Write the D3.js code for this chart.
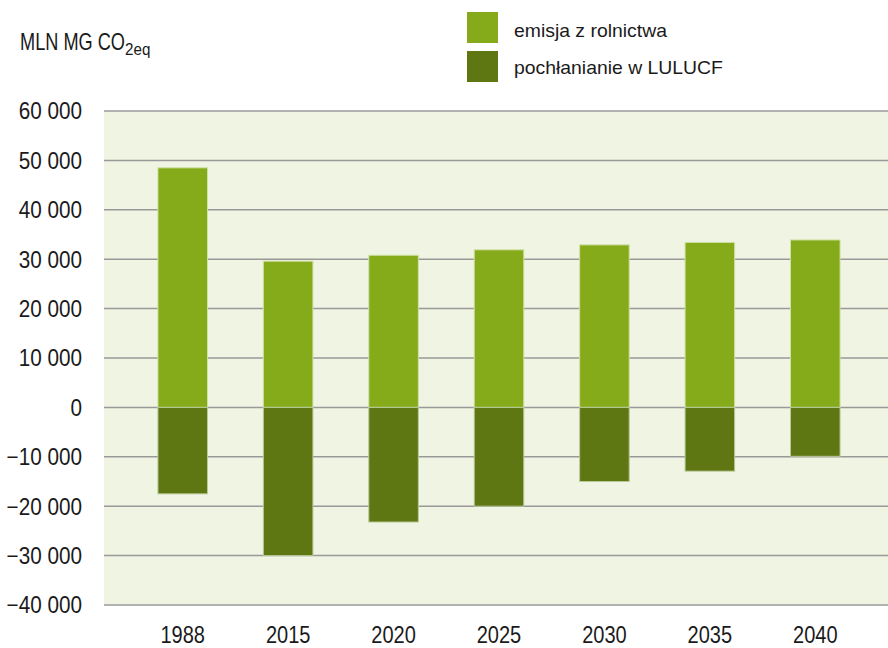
<html>
<head>
<meta charset="UTF-8">
<title>emisja</title>
<script src="https://d3js.org/d3.v7.min.js"></script>
<style>
  html,body{margin:0;padding:0;background:#fff;}
  text{font-family:"Liberation Sans",Arial,sans-serif;fill:#1a1a1a;}
</style>
</head>
<body>
<div id="container"></div>
<script>
const years = ['1988', '2015', '2020', '2025', '2030', '2035', '2040']
const emisja = [48500, 29600, 30800, 31900, 32900, 33400, 33900]
const pochlanianie = [-17500, -30000, -23200, -20000, -15000, -12900, -9900]
const yTicks = [60000, 50000, 40000, 30000, 20000, 10000, 0, -10000, -20000, -30000, -40000]
const seriesNames = ['emisja z rolnictwa', 'pochłanianie w LULUCF']
const colors = ['#86ab1a', '#5f7713']

const width = 888, height = 648
const plotLeft = 104, plotRight = 888

const svg = d3.select('#container').append('svg')
    .attr('width', width)
    .attr('height', height)

const x = d3.scaleBand()
    .domain(years)
    .range([130, 868])
    .paddingInner(0.53)
    .paddingOuter(0.265)

const y = d3.scaleLinear()
    .domain([-40000, 60000])
    .range([605, 111])

// background of plot area
svg.append('rect')
    .attr('x', plotLeft)
    .attr('y', y(60000))
    .attr('width', plotRight - plotLeft)
    .attr('height', y(-40000) - y(60000))
    .attr('fill', '#f0f5e3')

// grid lines
svg.append('g').selectAll('line')
    .data(yTicks)
    .join('line')
    .attr('x1', plotLeft)
    .attr('x2', plotRight)
    .attr('y1', d => y(d))
    .attr('y2', d => y(d))
    .attr('stroke', '#999')
    .attr('stroke-width', 1.5)

// y tick labels (narrow look via scaleX)
const fmt = d => d3.format(',')(d).replace(/,/g, ' ')
svg.append('g').selectAll('text')
    .data(yTicks)
    .join('text')
    .attr('transform', d => 'translate(82,' + (y(d) + 8.3) + ') scale(0.9,1)')
    .attr('text-anchor', 'end')
    .style('font-size', '23px')
    .text(fmt)

// bars
const bars = svg.append('g')
bars.selectAll('.pos')
    .data(emisja)
    .join('rect')
    .attr('class', 'pos')
    .attr('x', (d, i) => x(years[i]))
    .attr('width', x.bandwidth())
    .attr('y', d => y(d))
    .attr('height', d => y(0) - y(d))
    .attr('fill', colors[0])
    .attr('stroke', '#cfe0a6')
    .attr('stroke-width', 1)

bars.selectAll('.neg')
    .data(pochlanianie)
    .join('rect')
    .attr('class', 'neg')
    .attr('x', (d, i) => x(years[i]))
    .attr('width', x.bandwidth())
    .attr('y', y(0))
    .attr('height', d => y(d) - y(0))
    .attr('fill', colors[1])
    .attr('stroke', '#b9c99a')
    .attr('stroke-width', 1)

// x labels
svg.append('g').selectAll('text')
    .data(years)
    .join('text')
    .attr('transform', d => 'translate(' + (x(d) + x.bandwidth() / 2) + ',643) scale(0.87,1)')
    .attr('text-anchor', 'middle')
    .style('font-size', '23px')
    .text(d => d)

// unit title
svg.append('text')
    .attr('transform', 'translate(20,50) scale(0.79,1)')
    .style('font-size', '23px')
    .text('MLN MG CO')
svg.append('text')
    .attr('transform', 'translate(125,55) scale(0.95,1)')
    .style('font-size', '16px')
    .text('2eq')

// legend
const legend = svg.append('g')
seriesNames.forEach((name, i) => {
    legend.append('rect')
        .attr('x', 467)
        .attr('y', 12 + i * 39)
        .attr('width', 31)
        .attr('height', 31)
        .attr('fill', colors[i])
    legend.append('text')
        .attr('transform', 'translate(514,' + (36.5 + i * 37.5) + ') scale(1.02,1)')
        .style('font-size', '19px')
        .text(name)
})
</script>
</body>
</html>
